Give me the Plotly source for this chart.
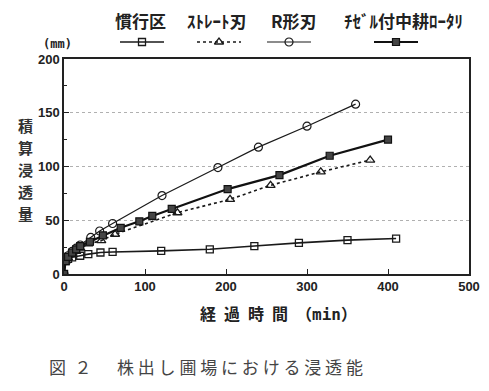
import plotly.graph_objects as go

# ---- data ----
series_names = ["慣行区", "ｽﾄﾚｰﾄ刃", "R形刃", "ﾁｾﾞﾙ付中耕ﾛｰﾀﾘ"]

x_kanko = [0, 2, 5, 10, 20, 30, 45, 60, 120, 180, 235, 290, 350, 410]
y_kanko = [0, 12, 14, 15.5, 17, 18.5, 20, 20.5, 21.5, 23, 26, 29, 31.5, 33]

x_straight = [0, 2, 5, 10, 15, 20, 30, 46, 63, 140, 205, 255, 317, 378]
y_straight = [0, 12, 15, 18, 21, 24, 28, 31, 37, 57, 69.5, 82.5, 95, 106]

x_r = [0, 2, 5, 10, 15, 20, 33, 44, 60, 121, 190, 240, 300, 360]
y_r = [0, 13, 17, 21, 24, 27, 34, 40, 47, 73, 99, 118, 137.5, 158]

x_chisel = [0, 2, 5, 10, 15, 20, 32, 48, 70, 93, 109, 133, 202, 266, 328, 400]
y_chisel = [0, 12, 16, 20, 23, 26, 30, 36, 43, 49, 54, 60.5, 79, 92, 110, 125]

x_ticks = [0, 100, 200, 300, 400, 500]
y_ticks = [0, 50, 100, 150, 200]

y_title_chars = ["積", "算", "浸", "透", "量"]

# page pixel geometry (the page body has an 8px default margin)
W, H = 489, 391
OFF = 8
FW, FH = W - OFF, H - OFF
PX0, PX1, PY0, PY1 = 64, 469, 59, 274   # plot box in window pixels

JP = "Noto Sans CJK JP"
NUM = "Liberation Sans, Arial, sans-serif"

styles = [
    dict(line=dict(color="#1a1a1a", width=1.6), marker=dict(symbol="square-open", size=7, color="#1a1a1a", line=dict(width=1.3))),
    dict(line=dict(color="#1a1a1a", width=1.6, dash="dot"), marker=dict(symbol="triangle-up-open", size=8, color="#1a1a1a", line=dict(width=1.3))),
    dict(line=dict(color="#1a1a1a", width=1.2), marker=dict(symbol="circle-open", size=8, color="#1a1a1a", line=dict(width=1.2))),
    dict(line=dict(color="#111111", width=2.2), marker=dict(symbol="square", size=7, color="#444444", line=dict(width=1.2, color="#111111"))),
]
xs = [x_kanko, x_straight, x_r, x_chisel]
ys = [y_kanko, y_straight, y_r, y_chisel]

fig = go.Figure()
for name, x, y, st in zip(series_names, xs, ys, styles):
    fig.add_trace(go.Scatter(x=x, y=y, mode="lines+markers", name=name,
                             line=st["line"], marker=st["marker"], showlegend=False,
                             xaxis="x", yaxis="y"))

# legend samples, drawn on a pixel overlay axis (window pixel coordinates)
leg_cx = [142, 219, 289, 396]
leg_tx = [140, 217, 294, 403]
leg_half = 22
for name, cx, tx, st in zip(series_names, leg_cx, leg_tx, styles):
    fig.add_trace(go.Scatter(x=[cx - leg_half, cx + leg_half], y=[42, 42], mode="lines",
                             line=st["line"], showlegend=False, xaxis="x2", yaxis="y2",
                             hoverinfo="skip"))
    fig.add_trace(go.Scatter(x=[cx], y=[42], mode="markers", marker=st["marker"],
                             showlegend=False, xaxis="x2", yaxis="y2", hoverinfo="skip"))
    fig.add_annotation(x=tx, y=20, xref="x2", yref="y2", text=f"<b>{name}</b>",
                       showarrow=False, font=dict(family=JP, size=17, color="#222"))

fig.add_annotation(x=57, y=44, xref="x2", yref="y2", text="<b>(mm)</b>", showarrow=False,
                   font=dict(family="DejaVu Sans Mono", size=12, color="#222"))
for i, ch in enumerate(y_title_chars):
    fig.add_annotation(x=25, y=125 + 22 * i, xref="x2", yref="y2", text=f"<b>{ch}</b>",
                       showarrow=False, font=dict(family=JP, size=15, color="#333"))
fig.add_annotation(x=278, y=313, xref="x2", yref="y2",
                   text="<b>経\u2002過\u2002時\u2002間\u2002（<span style='font-family:DejaVu Sans Mono'>min</span>）</b>",
                   showarrow=False, font=dict(family=JP, size=16, color="#222"))
fig.add_annotation(x=47, y=366, xref="x2", yref="y2", xanchor="left",
                   text="図\u2002２\u3000\u2002株 出 し 圃 場 に お け る 浸 透 能", showarrow=False,
                   font=dict(family=JP, size=17, color="#444"))

fig.update_layout(
    width=FW, height=FH, autosize=False,
    margin=dict(l=0, r=0, t=0, b=0, pad=0, autoexpand=False),
    paper_bgcolor="white", plot_bgcolor="rgba(0,0,0,0)",
    xaxis=dict(domain=[(PX0 - OFF) / FW, (PX1 - OFF) / FW], range=[0, 500], tickvals=x_ticks,
               ticks="inside", ticklen=5, tickcolor="#222", showgrid=False, zeroline=False,
               showline=True, mirror=True, linecolor="#222", linewidth=1.5,
               tickfont=dict(family=NUM, size=13, color="#222", weight="bold"), anchor="y"),
    yaxis=dict(domain=[(H - PY1) / FH, (H - PY0) / FH], range=[0, 200], tickvals=y_ticks,
               ticks="inside", ticklen=5, tickcolor="#222",
               minor=dict(ticks="inside", ticklen=3, dtick=25, tickcolor="#222", showgrid=False),
               showgrid=True, gridcolor="#b0b0b0", griddash="dot", gridwidth=1,
               zeroline=False, showline=True, mirror=True, linecolor="#222", linewidth=1.5,
               tickfont=dict(family=NUM, size=13, color="#222", weight="bold"), anchor="x"),
    xaxis2=dict(domain=[0, 1], range=[OFF, W], visible=False, anchor="y2", fixedrange=True),
    yaxis2=dict(domain=[0, 1], range=[H, OFF], visible=False, anchor="x2", fixedrange=True),
)

fig.write_html("out.html")
